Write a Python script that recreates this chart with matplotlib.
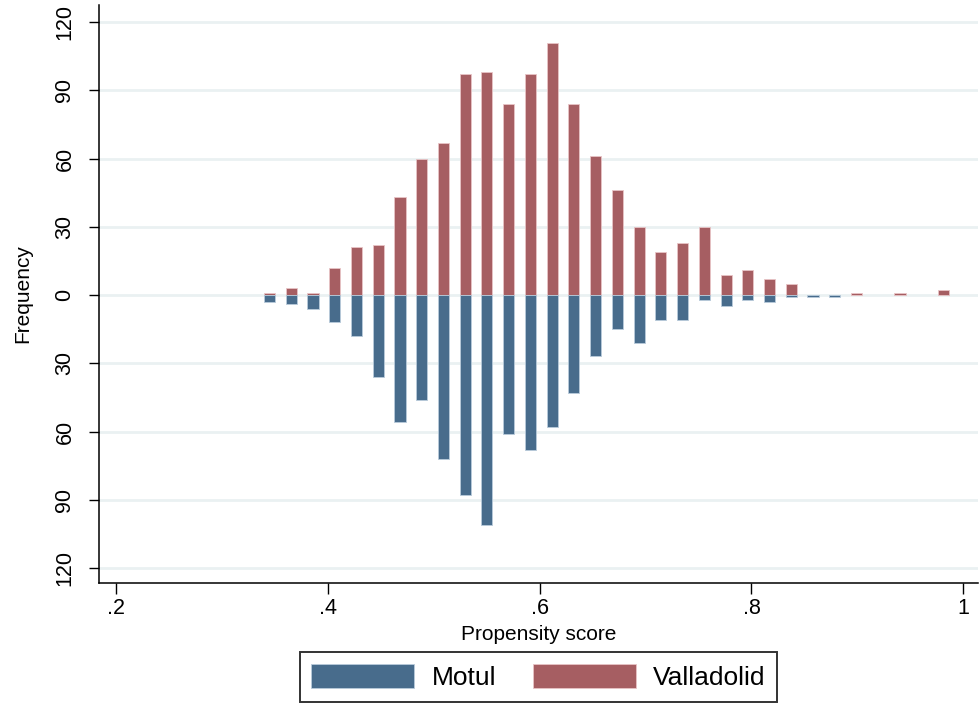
import numpy as np
import matplotlib
matplotlib.use("Agg")
import matplotlib.pyplot as plt
from matplotlib.patches import Patch

plt.rcParams['font.family'] = ['Liberation Sans', 'DejaVu Sans']

# histogram bins (propensity score), 32 bins of equal width
bin_first = 0.3453
bin_width = 0.02051
n_bins = 32
bin_centers = bin_first + bin_width * np.arange(n_bins)

# frequencies per bin
valladolid = [1, 3, 1, 12, 21, 22, 43, 60, 67, 97, 98, 84, 97, 111, 84, 61,
              46, 30, 19, 23, 30, 9, 11, 7, 5, 0, 0, 1, 0, 1, 0, 2]
motul = [3, 4, 6, 12, 18, 36, 56, 46, 72, 88, 101, 61, 68, 58, 43, 27,
         15, 21, 11, 11, 2, 5, 2, 3, 1, 1, 1, 0, 0, 0, 0, 0]

yticks = [-120, -90, -60, -30, 0, 30, 60, 90, 120]
xticks = [0.2, 0.4, 0.6, 0.8, 1.0]
xtick_labels = [".2", ".4", ".6", ".8", "1"]

blue = "#486c8c"
red = "#a65e62"

fig = plt.figure(figsize=(9.8, 7.1), dpi=100)
ax = fig.add_axes([99 / 980, 1 - 583 / 710, 879 / 980, 578 / 710])

for t in yticks:
    ax.axhline(t, color="#eaf1f2", lw=2, zorder=0)

vall = np.array(valladolid)
mot = np.array(motul)
ax.bar(bin_centers[vall > 0], vall[vall > 0], width=0.0105, color=red,
       edgecolor="#e8c4c6", linewidth=0.6, zorder=2)
ax.bar(bin_centers[mot > 0], -mot[mot > 0], width=0.0105, color=blue,
       edgecolor="#b9cbdb", linewidth=0.6, zorder=2)

ax.set_xlim(0.1844, 1.0137)
ax.set_ylim(-126.6, 127.5)

ax.set_yticks(yticks)
ax.set_yticklabels([str(abs(t)) for t in yticks], rotation=90, va="center",
                   fontsize=15.5)
ax.set_xticks(xticks)
ax.set_xticklabels(xtick_labels, fontsize=15.5)
ax.tick_params(axis="y", length=7, width=1, pad=10)
ax.tick_params(axis="x", length=8, width=1, pad=3)

for s in ["top", "right"]:
    ax.spines[s].set_visible(False)
for s in ["left", "bottom"]:
    ax.spines[s].set_linewidth(1.1)

ax.set_ylabel("Frequency", fontsize=15, labelpad=16)
ax.set_xlabel("Propensity score", fontsize=15, labelpad=4)

handles = [Patch(facecolor=blue, edgecolor="#b9cbdb", lw=0.6, label="Motul"),
           Patch(facecolor=red, edgecolor="#e8c4c6", lw=0.6, label="Valladolid")]
leg = fig.legend(handles=handles, loc="lower center", ncol=2,
                 bbox_to_anchor=(538.5 / 980, -5 / 710), fontsize=19,
                 frameon=True, fancybox=False, edgecolor="black",
                 handlelength=3.9, handleheight=1.0, handletextpad=0.65,
                 columnspacing=1.4, borderpad=0.45)
leg.get_frame().set_linewidth(1.4)

fig.savefig("out.png", dpi=100)
